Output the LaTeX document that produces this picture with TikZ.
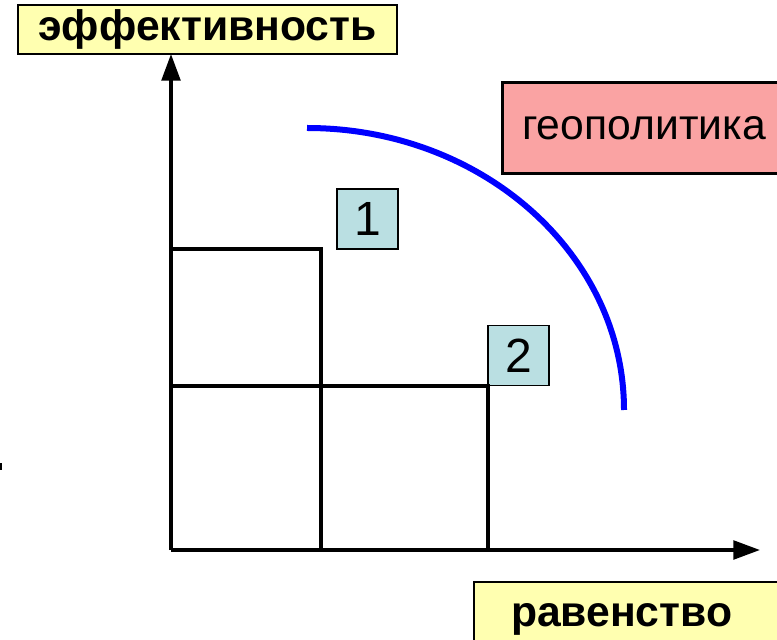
\documentclass[tikz,border=0pt]{standalone}
\usepackage{fontspec}
\setmainfont{Liberation Sans}
\usetikzlibrary{arrows.meta}
\definecolor{boxyellow}{RGB}{255,255,176}
\definecolor{boxpink}{RGB}{250,163,163}
\definecolor{boxblue}{RGB}{186,223,226}

\begin{document}
\begin{tikzpicture}[x=0.75pt,y=0.75pt,
  axislabel/.style={draw=black,line width=1.5pt,fill=boxyellow,font=\fontsize{32}{32}\selectfont\bfseries},
  numbox/.style={draw=black,line width=1.2pt,fill=boxblue,minimum width=46pt,minimum height=45pt,inner sep=0pt,font=\fontsize{36}{36}\selectfont},
  axis/.style={line width=2.6pt,-{Triangle[length=20pt,width=14pt]}},
  bar/.style={line width=2.6pt}]
\path[use as bounding box,clip] (0,0) rectangle (777,639);

\node[axislabel,minimum width=284pt,minimum height=34pt] (eff) at (207.5,609.5) {эффективность};
\node[axislabel,anchor=west,inner xsep=27.75pt,text width=225pt,align=left,minimum height=55.5pt] (rav) at (473,20) {равенство};
\node[draw=black,line width=1.8pt,fill=boxpink,minimum width=212pt,minimum height=68pt,font=\fontsize{32}{32}\selectfont] (geo) at (644,511) {геополитика};

\node[numbox] (n1) at (367.5,420) {1};
\node[numbox] (n2) at (518.5,283.5) {2};

\coordinate (o) at (171,89);
\coordinate (ytip) at (171,585);
\coordinate (xtip) at (760,89);
\coordinate (a1) at (171,390); \coordinate (c1) at (321,390); \coordinate (b1) at (321,89);
\coordinate (a2) at (171,253); \coordinate (c2) at (488,253); \coordinate (b2) at (488,89);

\draw[axis] (o) -- (ytip);
\draw[axis] (o) -- (xtip);
\draw[bar] (a1) -- (c1) -- (b1);
\draw[bar] (a2) -- (c2) -- (b2);

% frontier
\coordinate (arcstart) at (307,511);
\draw[blue,line width=4.5pt] (arcstart) arc[start angle=90,end angle=0,x radius=317,y radius=282];

\fill[black] (0,169) rectangle (2,176);
\end{tikzpicture}
\end{document}
